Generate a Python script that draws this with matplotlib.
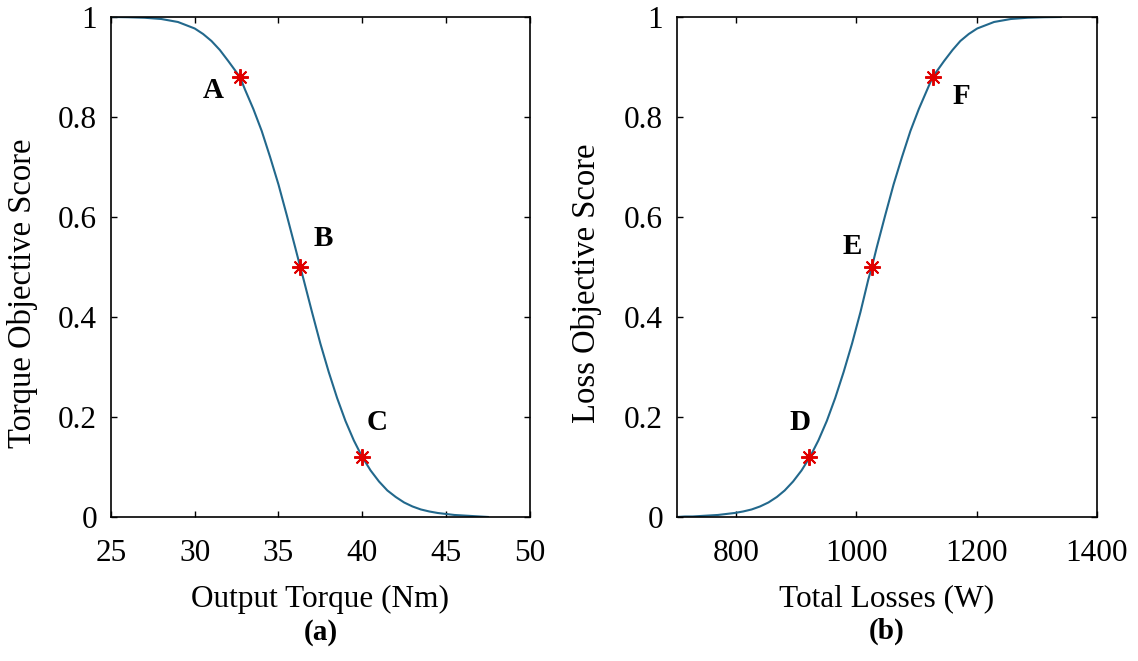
import matplotlib
matplotlib.use("Agg")
import matplotlib.pyplot as plt
import numpy as np

plt.rcParams['font.family'] = ['Liberation Serif', 'DejaVu Serif']

# curve (a): torque objective score
torque = [25, 26, 27, 28, 29, 30, 30.5, 31, 31.5, 32, 32.7, 33, 33.5, 34, 34.5, 35, 35.5, 36,
          36.3, 36.5, 37, 37.5, 38, 38.5, 39, 39.5, 40, 40.5, 41, 41.5, 42, 42.5,
          43, 43.5, 44, 44.5, 45, 45.5, 46, 46.5, 47, 47.5]
torque_score = [1.0, 0.9995, 0.9985, 0.996, 0.990, 0.977, 0.966, 0.952, 0.934, 0.912, 0.88, 0.855,
                0.816, 0.772, 0.72, 0.665, 0.603, 0.539, 0.50, 0.475, 0.41, 0.347,
                0.29, 0.238, 0.192, 0.153, 0.12, 0.093, 0.071, 0.053, 0.04, 0.029,
                0.021, 0.015, 0.011, 0.008, 0.006, 0.004, 0.003, 0.002, 0.001, 0.0]

# curve (b): loss objective score
losses = [703, 715, 728, 742, 756, 770, 784, 798, 812, 826, 840, 854, 868, 881, 895,
          909, 923, 937, 951, 965, 979, 993, 1007, 1020, 1026, 1034, 1048, 1062, 1076,
          1090, 1104, 1118, 1127, 1146, 1160, 1173, 1187, 1201, 1229, 1257, 1285, 1312, 1340]
loss_score = [0.0, 0.001, 0.001, 0.002, 0.003, 0.004, 0.006, 0.008, 0.011, 0.015,
              0.021, 0.029, 0.04, 0.053, 0.071, 0.093, 0.12, 0.153, 0.192, 0.238,
              0.29, 0.347, 0.41, 0.475, 0.50, 0.539, 0.603, 0.665, 0.72, 0.772, 0.816,
              0.855, 0.88, 0.912, 0.934, 0.952, 0.966, 0.977, 0.990, 0.996, 0.9985, 0.9995, 1.0]

pts_a = ['A', 'B', 'C']
pts_a_x = [32.7, 36.3, 40.0]
pts_a_y = [0.88, 0.50, 0.12]
lbl_a_x = [31.1, 37.65, 40.9]
lbl_a_y = [0.852, 0.556, 0.188]

pts_b = ['D', 'E', 'F']
pts_b_x = [922, 1026, 1128]
pts_b_y = [0.12, 0.50, 0.88]
lbl_b_x = [907, 993, 1175]
lbl_b_y = [0.188, 0.54, 0.84]

yticks = [0, 0.2, 0.4, 0.6, 0.8, 1]
ytick_labels = ['0', '0.2', '0.4', '0.6', '0.8', '1']

line_color = '#22688c'

fig = plt.figure(figsize=(11.38, 6.61), dpi=100)
ax1 = fig.add_axes([0.0975, 0.2179, 0.368, 0.7564])
ax2 = fig.add_axes([0.5949, 0.2179, 0.369, 0.7564])


def style(ax):
    ax.set_ylim(0, 1)
    ax.set_yticks(yticks)
    ax.set_yticklabels(ytick_labels)
    ax.tick_params(direction='in', length=4, width=1, top=True, right=True,
                   labelsize=22.5)
    ax.tick_params(axis='x', pad=16)
    ax.tick_params(axis='y', pad=10)
    for s in ax.spines.values():
        s.set_linewidth(1.2)


ax1.plot(torque, torque_score, color=line_color, lw=1.5)
ax1.plot(pts_a_x, pts_a_y, ls='none', marker=(8, 2, 0), ms=12, mew=1.4, color='#e00000')
for t, x, y in zip(pts_a, lbl_a_x, lbl_a_y):
    ax1.text(x, y, t, ha='center', va='center', fontsize=21, fontweight='bold')
ax1.set_xlim(25, 50)
ax1.set_xticks([25, 30, 35, 40, 45, 50])
style(ax1)
ax1.set_xlabel('Output Torque (Nm)', fontsize=22.5)
ax1.xaxis.set_label_coords(0.5, -0.136)
ax1.set_ylabel('Torque Objective Score', fontsize=23.5)
ax1.yaxis.set_label_coords(-0.175, 0.448)
ax1.text(0.5, -0.232, '(a)', transform=ax1.transAxes, ha='center', va='center',
         fontsize=21, fontweight='bold')

ax2.plot(losses, loss_score, color=line_color, lw=1.5)
ax2.plot(pts_b_x, pts_b_y, ls='none', marker=(8, 2, 0), ms=12, mew=1.4, color='#e00000')
for t, x, y in zip(pts_b, lbl_b_x, lbl_b_y):
    ax2.text(x, y, t, ha='center', va='center', fontsize=21, fontweight='bold')
ax2.set_xlim(702, 1400)
ax2.set_xticks([800, 1000, 1200, 1400])
style(ax2)
ax2.set_xlabel('Total Losses (W)', fontsize=22.5)
ax2.xaxis.set_label_coords(0.5, -0.134)
ax2.set_ylabel('Loss Objective Score', fontsize=23.5)
ax2.yaxis.set_label_coords(-0.178, 0.468)
ax2.text(0.5, -0.228, '(b)', transform=ax2.transAxes, ha='center', va='center',
         fontsize=21, fontweight='bold')

fig.savefig('out.png', dpi=100)
